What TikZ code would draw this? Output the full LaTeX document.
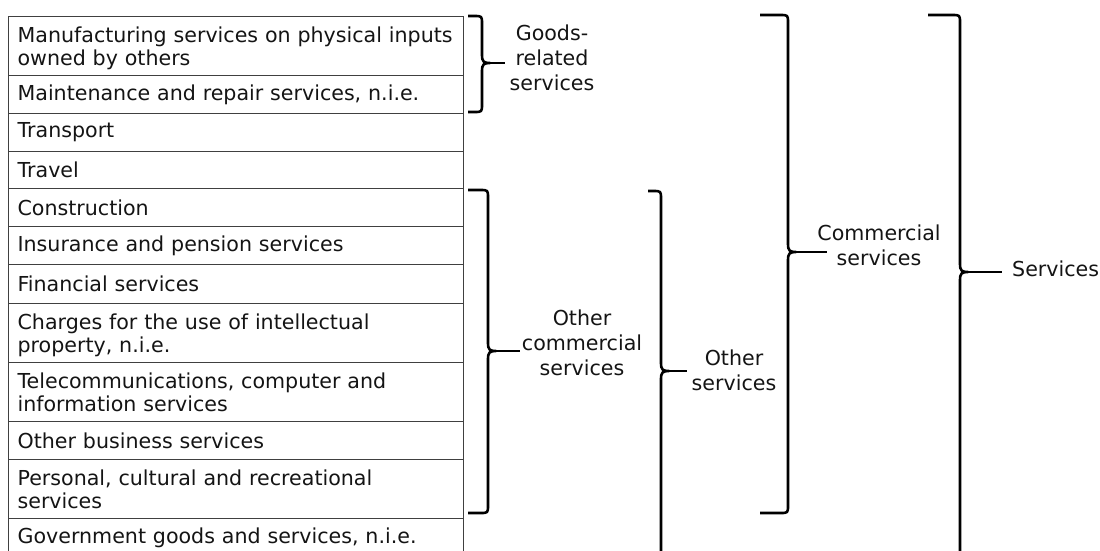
\documentclass[tikz,border=0pt]{standalone}
\usepackage{fontspec}
\setmainfont{DejaVu Sans}
\newcommand{\rowfont}{\fontsize{20.6}{23.2}\selectfont}
\newcommand{\lblfont}{\fontsize{20.6}{24.8}\selectfont}
% x0, x1, top, mid, bot
\newcommand{\bracepath}[5]{(#1,#3) -- ({#2-8},#3) .. controls (#2,#3) .. (#2,{#3+8}) -- (#2,{#4-8}) .. controls (#2,{#4-1}) and ({#2+2},#4) .. ({#2+8},#4) .. controls ({#2+2},#4) and (#2,{#4+1}) .. (#2,{#4+8}) -- (#2,{#5-8}) .. controls (#2,#5) .. ({#2-8},#5) -- (#1,#5)}
\begin{document}
\begin{tikzpicture}[x=1pt,y=-1pt,
  row/.style={draw=black!75, line width=1.2pt, anchor=north west, text width=437pt, inner xsep=9pt, inner ysep=0pt, align=left, font=\rowfont, text=black!92},
  tworow/.style={row, minimum height=59pt, text depth=23.2pt},
  brace/.style={draw=black, line width=2.6pt, line cap=butt, line join=round},
  lbl/.style={align=center, font=\lblfont, inner sep=0pt, text=black!92}]
\useasboundingbox (0,0) rectangle (1100,550);
\clip (0,0) rectangle (1100,550);
% table rows
\node[tworow] (r1) at (8,16) {Manufacturing services on physical inputs\\owned by others};
\node[row, minimum height=38pt] (r2) at (8,75) {Maintenance and repair services, n.i.e.};
\node[row, minimum height=38pt] (r3) at (8,113) {Transport};
\node[row, minimum height=37pt] (r4) at (8,151) {Travel};
\node[row, minimum height=38pt] (r5) at (8,188) {Construction};
\node[row, minimum height=38pt] (r6) at (8,226) {Insurance and pension services};
\node[row, minimum height=39pt] (r7) at (8,264) {Financial services};
\node[tworow] (r8) at (8,303) {Charges for the use of intellectual\\property, n.i.e.};
\node[tworow] (r9) at (8,362) {Telecommunications, computer and\\information services};
\node[row, minimum height=38pt] (r10) at (8,421) {Other business services};
\node[tworow] (r11) at (8,459) {Personal, cultural and recreational\\services};
\node[row, minimum height=38pt] (r12) at (8,518) {Government goods and services, n.i.e.};
% labels
\node[lbl] (lgoods) at (552,58) {Goods-\\related\\services};
\node[lbl] (locs) at (582,343) {Other\\commercial\\services};
\node[lbl] (los) at (734,370) {Other\\services};
\node[lbl] (lcs) at (879,245) {Commercial\\services};
\node[lbl, anchor=west] (ls) at (1012,269) {Services};
% brace tips
\coordinate (n1) at (490,63);   \coordinate (t1) at (505,63);
\coordinate (n2) at (496,351);  \coordinate (t2) at (520,351);
\coordinate (n3) at (669,371);  \coordinate (t3) at (687,371);
\coordinate (n4) at (796,252);  \coordinate (t4) at (827,252);
\coordinate (n5) at (968,272);  \coordinate (t5) at (1002,272);
% braces
\draw[brace] \bracepath{468}{482}{16}{63}{112};
\draw[brace] \bracepath{468}{488}{190}{351}{513};
\draw[brace] \bracepath{648}{661}{191}{371}{600};
\draw[brace] \bracepath{760}{788}{15}{252}{513};
\draw[brace] \bracepath{928}{960}{15}{272}{600};
% stems
\draw[brace] (n1) -- (t1);
\draw[brace] (n2) -- (t2);
\draw[brace] (n3) -- (t3);
\draw[brace] (n4) -- (t4);
\draw[brace] (n5) -- (t5);
\end{tikzpicture}
\end{document}
